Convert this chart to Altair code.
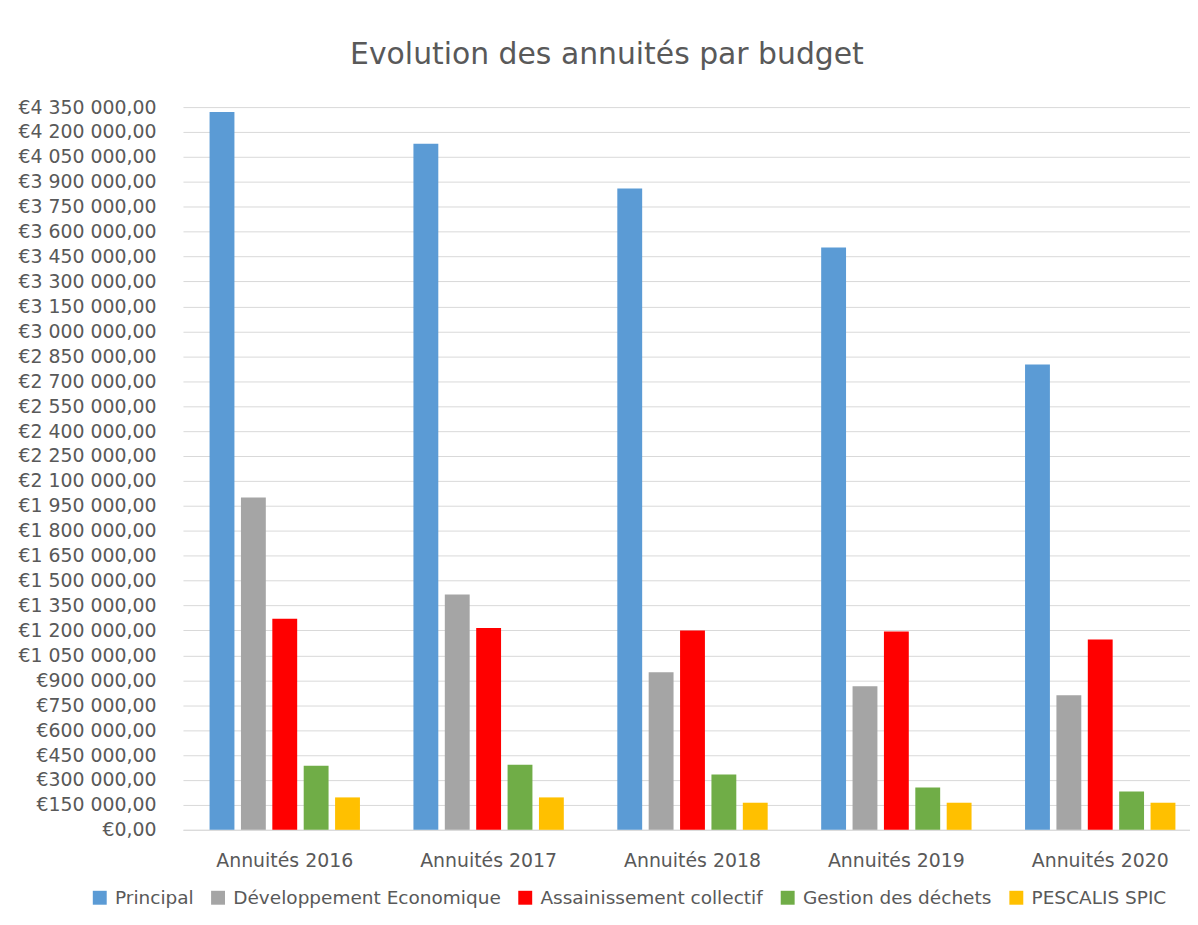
import altair as alt
import pandas as pd

categories = ["Annuités 2016", "Annuités 2017", "Annuités 2018", "Annuités 2019", "Annuités 2020"]
series = ["Principal", "Développement Economique", "Assainissement collectif",
          "Gestion des déchets", "PESCALIS SPIC"]
colors = ["#5B9BD5", "#A5A5A5", "#FF0000", "#70AD47", "#FFC000"]

principal = [4320000, 4130000, 3860000, 3505000, 2800000]
developpement = [2000000, 1417000, 948000, 864000, 810000]
assainissement = [1270000, 1215000, 1200000, 1194000, 1146000]
gestion = [386000, 392000, 333000, 255000, 231000]
pescalis = [195000, 195000, 163000, 163000, 163000]

y_ticks = [0, 150000, 300000, 450000, 600000, 750000, 900000, 1050000, 1200000,
           1350000, 1500000, 1650000, 1800000, 1950000, 2100000, 2250000, 2400000,
           2550000, 2700000, 2850000, 3000000, 3150000, 3300000, 3450000, 3600000,
           3750000, 3900000, 4050000, 4200000, 4350000]

values = [principal, developpement, assainissement, gestion, pescalis]
rows = []
for s, vals in zip(series, values):
    for c, v in zip(categories, vals):
        rows.append({"category": c, "series": s, "value": v})
df = pd.DataFrame(rows)

FONT = "DejaVu Sans"
TXT = "#595959"
GRID = "#D9D9D9"

chart = alt.Chart(df).mark_bar().encode(
    x=alt.X("category:N", sort=categories,
            scale=alt.Scale(paddingInner=0.2624, paddingOuter=0.101, align=0.646),
            axis=alt.Axis(title=None, labelAngle=0, labelFont=FONT, labelFontSize=19,
                          labelColor=TXT, ticks=False, tickSize=0, labelPadding=22,
                          domain=True, domainColor=GRID, grid=False)),
    xOffset=alt.XOffset("series:N", sort=series,
                        scale=alt.Scale(paddingInner=0.2076, paddingOuter=0)),
    y=alt.Y("value:Q", scale=alt.Scale(domain=[0, 4350000], nice=False, zero=True),
            axis=alt.Axis(title=None, values=y_ticks, format="$,.2f", labelFont=FONT,
                          labelFontSize=19, labelColor=TXT, ticks=False, tickSize=0,
                          labelPadding=27, domain=False, grid=True, gridColor=GRID,
                          gridWidth=1, minExtent=176, maxExtent=176)),
    color=alt.Color("series:N", sort=series,
                    scale=alt.Scale(domain=series, range=colors),
                    legend=alt.Legend(title=None, orient="none", direction="horizontal",
                                      legendX=-93, legendY=786, symbolType="square",
                                      symbolSize=196, symbolStrokeWidth=0,
                                      labelFont=FONT, labelFontSize=18.6, labelColor=TXT,
                                      labelOffset=6, columnPadding=15, padding=0,
                                      labelLimit=0)),
).properties(
    width=1013,
    height=727,
    padding={"left": 0, "top": 30, "right": 0, "bottom": 0},
    title=alt.TitleParams("Evolution des annuités par budget", font=FONT, fontSize=30,
                          fontWeight="normal", color=TXT, offset=28, dx=-80,
                          anchor="middle"),
).configure(
    locale={"number": {"decimal": ",", "thousands": " ", "grouping": [3],
                       "currency": ["€", ""]}}
).configure_view(stroke=None)

chart.save("out.html", embed_options={"renderer": "svg", "actions": False})
